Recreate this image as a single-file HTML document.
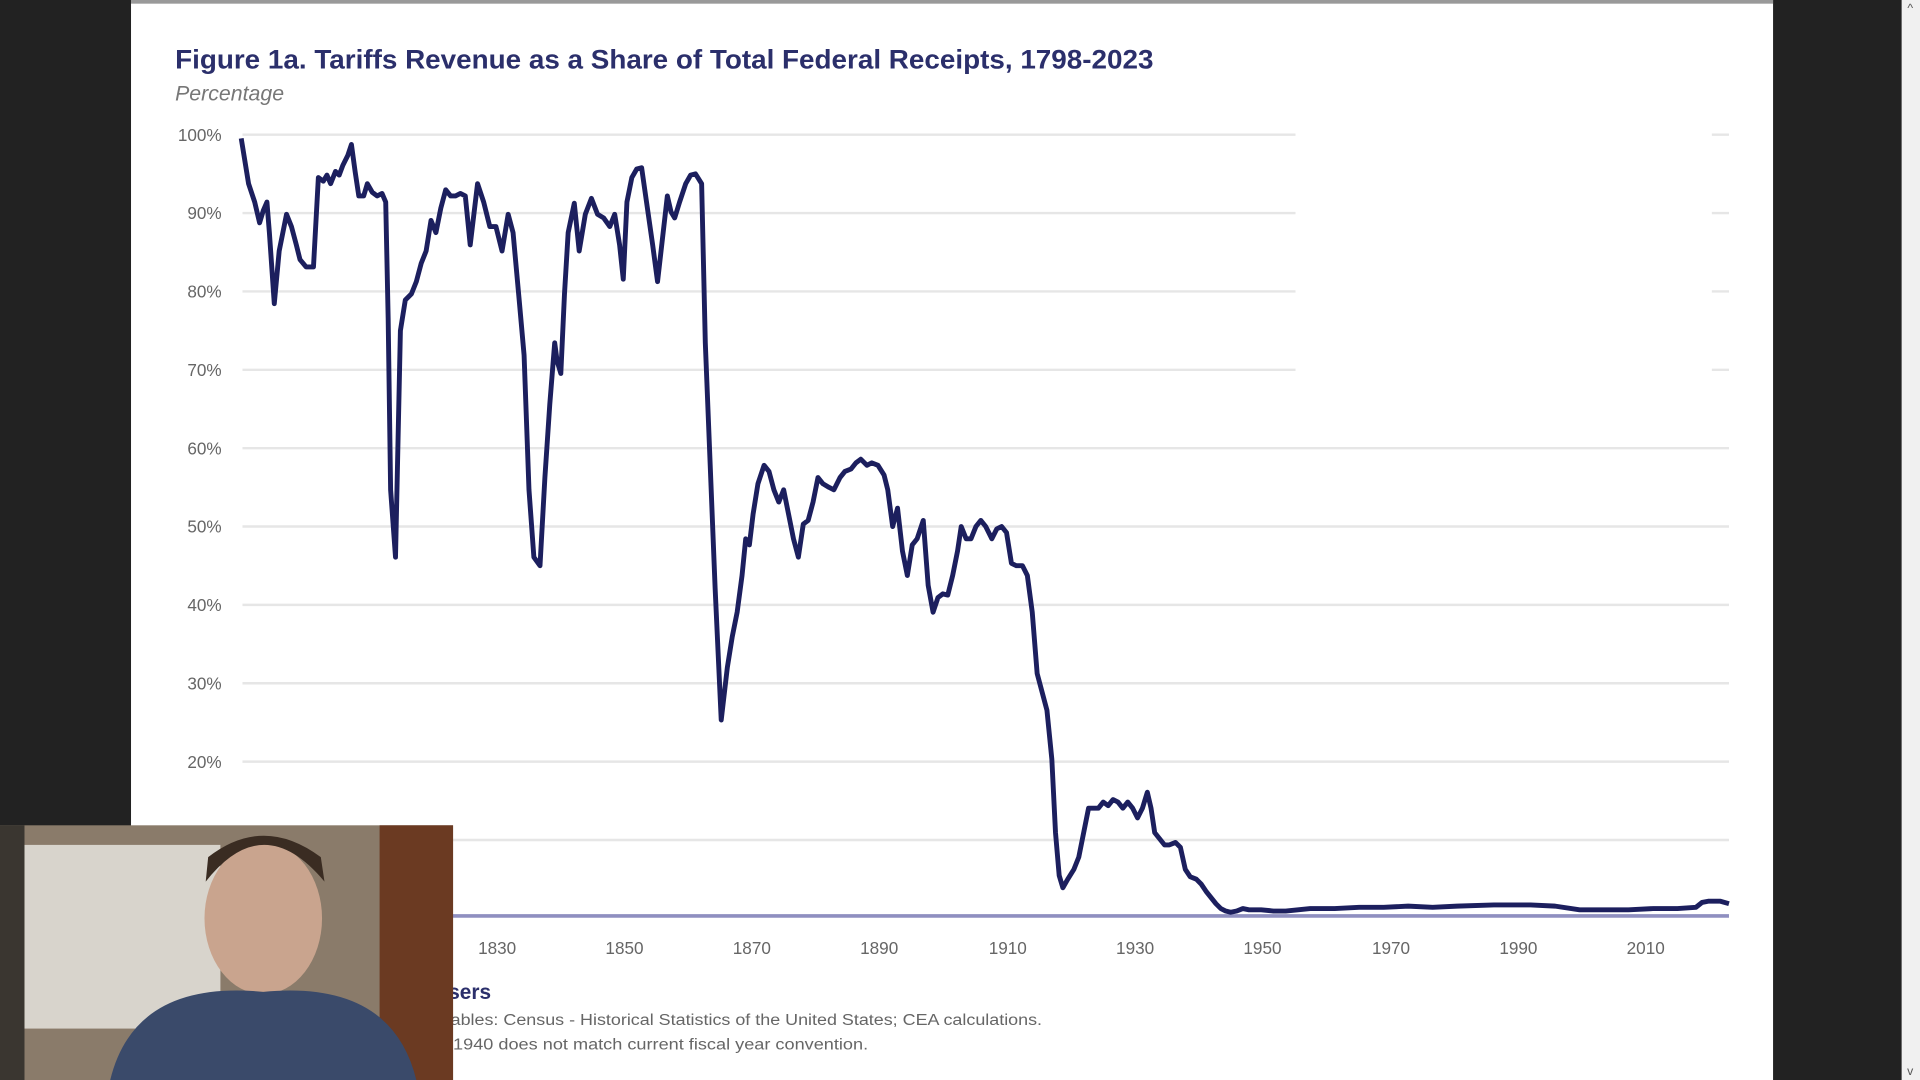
<!DOCTYPE html>
<html><head><meta charset="utf-8"><style>
html,body{margin:0;padding:0;background:#222;overflow:hidden}
svg{display:block;width:100vw;height:100vh}
</style></head><body>
<svg viewBox="0 0 1568 882" preserveAspectRatio="none" xmlns="http://www.w3.org/2000/svg" font-family="Liberation Sans, sans-serif">
<rect width="1568" height="882" fill="#222"/>
<rect x="107" y="0" width="1341" height="882" fill="#fff"/>
<rect x="107" y="0" width="1341" height="3" fill="#999"/>
<rect x="1553" y="0" width="15" height="882" fill="#f0f0f0"/>
<text x="1560" y="10" font-size="10" text-anchor="middle" fill="#555">^</text>
<text x="1560" y="878" font-size="10" text-anchor="middle" fill="#555">v</text>
<text x="143" y="56" font-size="22" font-weight="bold" fill="#2b2f6b" textLength="799" lengthAdjust="spacingAndGlyphs">Figure 1a. Tariffs Revenue as a Share of Total Federal Receipts, 1798-2023</text>
<text x="143" y="82" font-size="17" font-style="italic" fill="#777" textLength="89" lengthAdjust="spacingAndGlyphs">Percentage</text>
<g stroke="#e6e6e6" stroke-width="2">
<line x1="198" y1="110" x2="1058" y2="110"/><line x1="1398" y1="110" x2="1412" y2="110"/>
<line x1="198" y1="174" x2="1058" y2="174"/><line x1="1398" y1="174" x2="1412" y2="174"/>
<line x1="198" y1="238" x2="1058" y2="238"/><line x1="1398" y1="238" x2="1412" y2="238"/>
<line x1="198" y1="302" x2="1058" y2="302"/><line x1="1398" y1="302" x2="1412" y2="302"/>
<line x1="198" y1="366" x2="1412" y2="366"/>
<line x1="198" y1="430" x2="1412" y2="430"/>
<line x1="198" y1="494" x2="1412" y2="494"/>
<line x1="198" y1="558" x2="1412" y2="558"/>
<line x1="198" y1="622" x2="1412" y2="622"/>
<line x1="198" y1="686" x2="1412" y2="686"/>
</g>
<line x1="198" y1="748" x2="1412" y2="748" stroke="#8f8fc0" stroke-width="3"/>
<g font-size="14" fill="#666" text-anchor="end">
<text x="181" y="115">100%</text><text x="181" y="179">90%</text><text x="181" y="243">80%</text><text x="181" y="307">70%</text><text x="181" y="371">60%</text><text x="181" y="435">50%</text><text x="181" y="499">40%</text><text x="181" y="563">30%</text><text x="181" y="627">20%</text>
</g>
<g font-size="14" fill="#666" text-anchor="middle">
<text x="406" y="779">1830</text><text x="510" y="779">1850</text><text x="614" y="779">1870</text><text x="718" y="779">1890</text><text x="823" y="779">1910</text><text x="927" y="779">1930</text><text x="1031" y="779">1950</text><text x="1136" y="779">1970</text><text x="1240" y="779">1990</text><text x="1344" y="779">2010</text>
</g>
<polyline fill="none" stroke="#1c1f5e" stroke-width="4" stroke-linejoin="round" points="197,113 203,150 208,165 212,182 215,172 218,165 220,190 224,248 228,205 234,175 238,185 242,200 245,212 250,218 256,218 260,145 264,148 267,143 270,150 274,140 277,143 280,135 284,127 287,118 290,140 293,160 297,160 300,150 304,157 308,160 312,158 315,165 317,260 319,400 323,455 327,270 331,245 336,240 340,230 344,215 348,205 352,180 356,190 360,170 364,155 368,160 372,160 376,158 380,160 384,200 390,150 395,165 400,185 405,185 410,205 415,175 419,190 424,245 428,290 432,400 436,455 441,462 445,390 449,330 453,280 455,295 458,305 461,240 464,190 469,166 473,205 478,175 483,162 488,175 493,178 498,185 502,175 506,200 509,228 512,165 516,145 520,138 524,137 528,165 533,200 537,230 541,195 545,160 548,173 551,178 555,165 560,150 564,143 568,142 573,150 576,280 580,380 584,480 589,588 594,545 598,520 602,500 606,470 609,440 612,445 615,420 619,395 624,380 628,385 632,400 636,410 640,400 644,420 648,440 652,455 656,428 660,425 664,410 668,390 672,395 677,398 681,400 686,390 690,385 695,383 699,378 703,375 708,380 712,378 717,380 722,388 725,400 729,430 733,415 737,450 741,470 745,445 749,440 754,425 758,478 762,500 766,488 770,485 774,486 778,470 782,450 785,430 789,440 793,440 797,430 801,425 805,430 810,440 814,432 818,430 822,435 826,460 830,462 835,462 839,470 843,500 847,550 851,565 855,580 859,620 862,680 865,715 868,725 872,718 877,710 881,700 885,680 889,660 893,660 897,660 901,655 905,658 909,653 913,655 917,660 921,655 925,660 929,668 933,660 937,647 940,660 943,680 947,685 951,690 955,690 960,688 964,692 968,710 972,716 977,718 981,722 985,728 989,733 993,738 997,742 1001,744 1005,745 1010,744 1015,742 1020,743 1030,743 1040,744 1050,744 1060,743 1070,742 1090,742 1110,741 1130,741 1150,740 1170,741 1190,740 1220,739 1250,739 1270,740 1290,743 1310,743 1330,743 1350,742 1370,742 1385,741 1390,737 1395,736 1405,736 1412,738"/>
<text x="401" y="816" font-size="17" font-weight="bold" fill="#2b2f6b" text-anchor="end">Sources and Users</text>
<text x="250" y="837" font-size="13" fill="#666">Sources: T</text>
<text x="368" y="837" font-size="13" fill="#666" textLength="483" lengthAdjust="spacingAndGlyphs">ables: Census - Historical Statistics of the United States; CEA calculations.</text>
<text x="250" y="857" font-size="13" fill="#666">Note: prior to</text>
<text x="370" y="857" font-size="13" fill="#666" textLength="339" lengthAdjust="spacingAndGlyphs">1940 does not match current fiscal year convention.</text>
<rect x="0" y="674" width="370" height="208" fill="#8a7b6a"/>
<rect x="20" y="690" width="160" height="150" fill="#d8d4cc"/>
<rect x="310" y="674" width="60" height="208" fill="#6b3a22"/>
<rect x="0" y="674" width="20" height="208" fill="#3a3630"/>
<ellipse cx="215" cy="750" rx="48" ry="62" fill="#c9a48e"/>
<path d="M168 720 Q215 660 265 720 L262 700 Q215 665 170 700Z" fill="#3a2c22"/>
<path d="M90 882 Q110 800 215 810 Q320 800 340 882Z" fill="#3a4a6a"/>
</svg>
</body></html>
